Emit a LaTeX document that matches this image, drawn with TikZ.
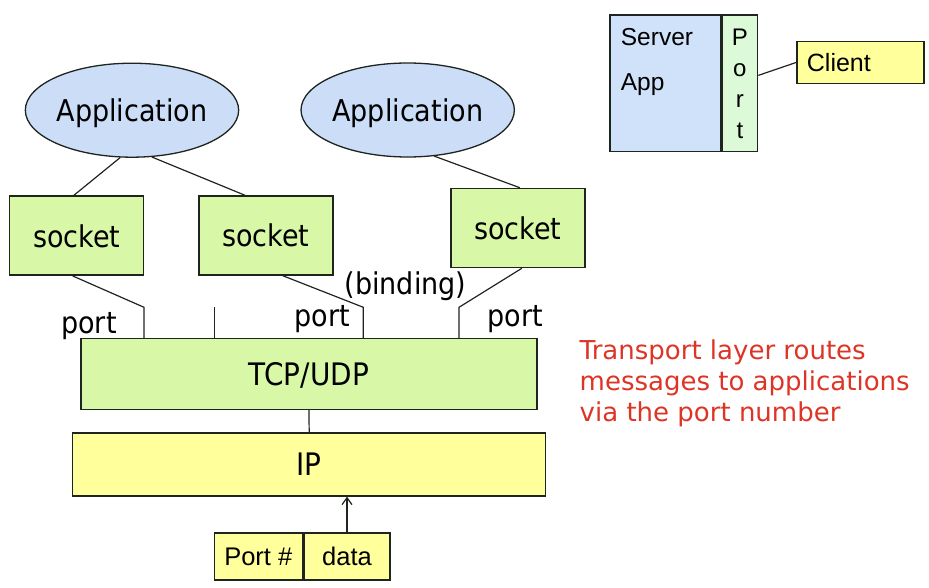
\documentclass[tikz,border=0pt]{standalone}
\usepackage{fontspec}
\setmainfont{DejaVu Sans}
\newfontfamily\tahoma[FakeStretch=0.9]{DejaVu Sans}
\newfontfamily\arial{Liberation Sans}
\usetikzlibrary{arrows.meta, positioning, shapes.geometric}

\definecolor{appblue}{RGB}{204,221,248}
\definecolor{sockgreen}{RGB}{216,248,168}
\definecolor{ipyellow}{RGB}{255,255,156}
\definecolor{srvblue}{RGB}{208,226,250}
\definecolor{portgreen}{RGB}{220,249,216}
\definecolor{notered}{RGB}{222,52,38}
\definecolor{edge}{RGB}{30,36,30}

\begin{document}
\begin{tikzpicture}[
    x=1pt, y=-1pt,
    box/.style={rectangle, draw=edge, line width=1.5pt, inner sep=0pt, text depth=0pt},
    app/.style={ellipse, draw=edge, fill=appblue, line width=1.3pt, inner sep=0pt, text depth=0pt,
                minimum width=213pt, minimum height=94pt, font=\tahoma\fontsize{30}{36}\selectfont},
    sock/.style={box, fill=sockgreen, minimum width=134pt, minimum height=79pt, font=\tahoma\fontsize{30}{36}\selectfont},
    lbl/.style={inner sep=0pt, anchor=base, font=\tahoma\fontsize{30}{36}\selectfont},
    wire/.style={draw=edge, line width=1.2pt}
]

\useasboundingbox (0,0) rectangle (929,588);

% Applications
\node[app] (app1) at (132,110.2) {Application};
\node[app] (app2) at (407.7,110) {Application};

% Sockets
\node[sock] (sock1) at (76.7,235.7) {socket};
\node[sock] (sock2) at (265.9,235.5) {socket};
\node[sock] (sock3) at (517.9,228) {socket};

% Transport and network layer
\node[box, fill=sockgreen, minimum width=456pt, minimum height=71pt, font=\tahoma\fontsize{31}{36}\selectfont] (tcp) at (308.9,373.8) {TCP/UDP};
\node[box, fill=ipyellow, minimum width=473pt, minimum height=63pt, font=\tahoma\fontsize{31}{36}\selectfont] (ip) at (309.2,464.4) {IP};

% Segment
\node[box, fill=ipyellow, minimum width=88pt, minimum height=47pt, font=\arial\fontsize{25.5}{30}\selectfont] (portnum) at (258.3,556.4) {Port \#};
\node[box, fill=ipyellow, minimum width=86.4pt, minimum height=47pt, font=\arial\fontsize{25.5}{30}\selectfont, right=0pt of portnum] (data) {data};

% Port attach points on TCP/UDP
\coordinate (q1) at (144,338.3);
\coordinate (q2) at (214.3,338.3);
\coordinate (q3) at (363.3,338.3);
\coordinate (q4) at (459,338.3);

% Application to socket
\draw[wire] (app1.256) -- ([xshift=-3pt]sock1.north);
\draw[wire] (app1.293) -- ([xshift=-21pt]sock2.north);
\draw[wire] (app2.300) -- ([xshift=2pt]sock3.north);

% Socket to port
\draw[wire] ([xshift=-4pt]sock1.south) -- ([yshift=31pt]q1) -- (q1);
\draw[wire] ([yshift=31pt]q2) -- (q2);
\draw[wire] ([xshift=17pt]sock2.south) -- ([yshift=31pt]q3) -- (q3);
\draw[wire] ([xshift=4pt]sock3.south) -- ([yshift=31pt]q4) -- (q4);

\draw[wire] (tcp.south) -- (ip.north);
\draw[wire, -{Straight Barb[length=7pt, width=10pt]}] (data.north) -- (data.north |- ip.south);

% Labels
\node[lbl] (lport1) at (89,333.3) {port};
\node[lbl] (lport2) at (322.5,326.7) {port};
\node[lbl] (lport3) at (515.5,326.7) {port};
\node[lbl] (lbind) at (405.5,294) {(binding)};

\node[inner sep=0pt, anchor=north west, align=left, text=notered, font=\fontsize{26}{31.2}\selectfont] (note) at (579.5,339.5)
    {Transport layer routes\\messages to applications\\via the port number};

% Server with port and client
\node[box, fill=srvblue, minimum width=110.7pt, minimum height=136.7pt] (srv) at (665.4,83.4) {};
\node[box, fill=portgreen, minimum width=35.3pt, minimum height=136.7pt, right=0pt of srv] (prt) {};
\node[inner sep=0pt, anchor=base west, font=\arial\fontsize{24.5}{31}\selectfont] (srvname) at (620.7,45.7) {Server};
\node[inner sep=0pt, anchor=base west, font=\arial\fontsize{24.5}{31}\selectfont] (srvapp) at (620.7,91) {App};
\node[inner sep=0pt, align=center, font=\arial\fontsize{24}{31}\selectfont] (prtname) at (prt.center) {P\\o\\r\\t};

\node[box, fill=ipyellow, minimum width=127.3pt, minimum height=41.6pt, text width=107pt, align=left, font=\arial\fontsize{25}{30}\selectfont] (client) at (860.4,62.5) {Client};

\draw[wire] ([yshift=8pt]prt.east) -- (client.west);

\end{tikzpicture}
\end{document}
